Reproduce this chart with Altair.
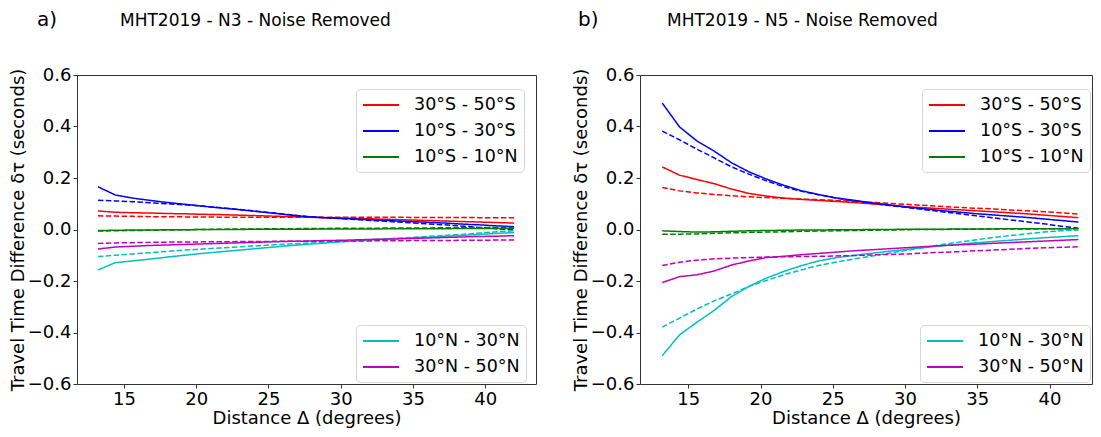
import altair as alt
import pandas as pd

# ---------------- data ----------------
dist = [13.2, 14.4, 15.6, 16.8, 18.0, 19.2, 20.4, 21.6, 22.8, 24.0, 25.2, 26.4, 27.6,
        28.8, 30.0, 31.2, 32.4, 33.6, 34.8, 36.0, 37.2, 38.4, 39.6, 40.8, 42.0]

bands_south = ["30°S - 50°S", "10°S - 30°S", "10°S - 10°N"]
bands_north = ["10°N - 30°N", "30°N - 50°N"]
colors_south = ["#ff0000", "#0000ff", "#008000"]
colors_north = ["#00bfbf", "#bf00bf"]

x_ticks = [15, 20, 25, 30, 35, 40]
y_ticks = [-0.6, -0.4, -0.2, 0.0, 0.2, 0.4, 0.6]

# ---- N3 (panel a): solid = "obs", dashed = "syn"
n3_s3050_obs = [0.072, 0.067, 0.065, 0.064, 0.062, 0.061, 0.059, 0.058, 0.056, 0.054, 0.052, 0.050, 0.048,
                0.046, 0.045, 0.043, 0.041, 0.039, 0.037, 0.035, 0.033, 0.031, 0.029, 0.027, 0.025]
n3_s3050_syn = [0.053, 0.052, 0.051, 0.050, 0.050, 0.049, 0.049, 0.048, 0.048, 0.048, 0.048, 0.048, 0.048,
                0.048, 0.048, 0.048, 0.048, 0.048, 0.047, 0.047, 0.047, 0.047, 0.046, 0.046, 0.046]
n3_s1030_obs = [0.166, 0.134, 0.122, 0.113, 0.105, 0.098, 0.091, 0.084, 0.078, 0.071, 0.064, 0.057, 0.050,
                0.046, 0.043, 0.040, 0.037, 0.034, 0.031, 0.028, 0.025, 0.021, 0.018, 0.014, 0.011]
n3_s1030_syn = [0.114, 0.111, 0.108, 0.104, 0.100, 0.096, 0.091, 0.085, 0.079, 0.072, 0.065, 0.058, 0.051,
                0.046, 0.042, 0.038, 0.034, 0.030, 0.026, 0.022, 0.018, 0.013, 0.008, 0.003, -0.002]
n3_eq_obs = [-0.004, -0.003, -0.002, -0.002, -0.001, -0.001, 0.000, 0.000, 0.000, 0.001, 0.001, 0.001, 0.001,
             0.002, 0.002, 0.002, 0.002, 0.003, 0.003, 0.003, 0.003, 0.004, 0.004, 0.004, 0.004]
n3_eq_syn = [-0.006, -0.005, -0.004, -0.003, -0.002, -0.001, 0.000, 0.001, 0.002, 0.002, 0.003, 0.003, 0.004,
             0.004, 0.005, 0.005, 0.005, 0.006, 0.006, 0.006, 0.007, 0.007, 0.007, 0.008, 0.008]
n3_n1030_obs = [-0.157, -0.129, -0.122, -0.115, -0.107, -0.100, -0.093, -0.087, -0.081, -0.075, -0.069, -0.063, -0.058,
                -0.053, -0.048, -0.044, -0.040, -0.036, -0.033, -0.030, -0.026, -0.023, -0.019, -0.015, -0.012]
n3_n1030_syn = [-0.105, -0.100, -0.095, -0.090, -0.085, -0.080, -0.076, -0.072, -0.068, -0.064, -0.060, -0.056, -0.053,
                -0.050, -0.046, -0.042, -0.039, -0.035, -0.031, -0.027, -0.023, -0.019, -0.014, -0.009, -0.005]
n3_n3050_obs = [-0.076, -0.068, -0.065, -0.062, -0.060, -0.058, -0.056, -0.054, -0.052, -0.050, -0.048, -0.046, -0.045,
                -0.043, -0.042, -0.040, -0.038, -0.037, -0.035, -0.033, -0.031, -0.029, -0.027, -0.026, -0.024]
n3_n3050_syn = [-0.054, -0.052, -0.051, -0.050, -0.049, -0.049, -0.048, -0.048, -0.047, -0.047, -0.046, -0.046, -0.046,
                -0.045, -0.045, -0.045, -0.044, -0.044, -0.043, -0.043, -0.043, -0.042, -0.042, -0.041, -0.041]

# ---- N5 (panel b)
n5_s3050_obs = [0.243, 0.211, 0.194, 0.178, 0.157, 0.140, 0.130, 0.122, 0.117, 0.113, 0.109, 0.105, 0.100,
                0.095, 0.089, 0.085, 0.081, 0.077, 0.073, 0.069, 0.065, 0.061, 0.056, 0.051, 0.046]
n5_s3050_syn = [0.163, 0.150, 0.142, 0.136, 0.131, 0.127, 0.124, 0.121, 0.118, 0.116, 0.113, 0.110, 0.106,
                0.102, 0.098, 0.094, 0.090, 0.086, 0.083, 0.080, 0.076, 0.073, 0.069, 0.065, 0.060]
n5_s1030_obs = [0.491, 0.398, 0.344, 0.304, 0.259, 0.224, 0.196, 0.172, 0.151, 0.136, 0.123, 0.114, 0.104,
                0.096, 0.088, 0.081, 0.074, 0.068, 0.062, 0.057, 0.052, 0.047, 0.041, 0.035, 0.029]
n5_s1030_syn = [0.382, 0.348, 0.312, 0.278, 0.243, 0.215, 0.189, 0.166, 0.149, 0.135, 0.122, 0.112, 0.103,
                0.094, 0.086, 0.078, 0.070, 0.062, 0.054, 0.046, 0.038, 0.030, 0.022, 0.013, 0.005]
n5_eq_obs = [-0.005, -0.008, -0.010, -0.009, -0.007, -0.005, -0.004, -0.003, -0.002, -0.002, -0.001, -0.001, 0.000,
             0.000, 0.001, 0.001, 0.001, 0.002, 0.002, 0.002, 0.003, 0.003, 0.003, 0.003, 0.003]
n5_eq_syn = [-0.018, -0.018, -0.017, -0.015, -0.013, -0.011, -0.010, -0.009, -0.007, -0.006, -0.005, -0.004, -0.003,
             -0.002, -0.001, 0.000, 0.000, 0.001, 0.001, 0.002, 0.002, 0.002, 0.003, 0.003, 0.003]
n5_n1030_obs = [-0.490, -0.409, -0.360, -0.314, -0.260, -0.221, -0.189, -0.163, -0.141, -0.122, -0.110, -0.101, -0.093,
                -0.085, -0.078, -0.071, -0.064, -0.058, -0.052, -0.047, -0.042, -0.037, -0.032, -0.028, -0.024]
n5_n1030_syn = [-0.379, -0.344, -0.309, -0.277, -0.250, -0.221, -0.198, -0.176, -0.157, -0.140, -0.127, -0.115, -0.104,
                -0.093, -0.082, -0.071, -0.060, -0.050, -0.041, -0.032, -0.024, -0.017, -0.010, -0.005, -0.002]
n5_n3050_obs = [-0.206, -0.183, -0.176, -0.161, -0.138, -0.122, -0.109, -0.104, -0.098, -0.093, -0.088, -0.083, -0.079,
                -0.075, -0.071, -0.067, -0.063, -0.060, -0.057, -0.054, -0.051, -0.048, -0.045, -0.042, -0.039]
n5_n3050_syn = [-0.140, -0.127, -0.119, -0.114, -0.111, -0.109, -0.107, -0.106, -0.105, -0.104, -0.103, -0.101, -0.099,
                -0.097, -0.095, -0.092, -0.089, -0.086, -0.083, -0.080, -0.077, -0.074, -0.071, -0.069, -0.067]

FONT = "DejaVu Sans"
PX_PER_DEG = 14.45  # horizontal scale shared by both panels


def build(series):
    rows = []
    for band, obs, syn in series:
        for d, a, b in zip(dist, obs, syn):
            rows.append({"dist": d, "val": a, "band": band, "kind": "obs"})
            rows.append({"dist": d, "val": b, "band": band, "kind": "syn"})
    return pd.DataFrame(rows)


df_n3 = build([
    (bands_south[0], n3_s3050_obs, n3_s3050_syn),
    (bands_south[1], n3_s1030_obs, n3_s1030_syn),
    (bands_south[2], n3_eq_obs, n3_eq_syn),
    (bands_north[0], n3_n1030_obs, n3_n1030_syn),
    (bands_north[1], n3_n3050_obs, n3_n3050_syn),
])
df_n5 = build([
    (bands_south[0], n5_s3050_obs, n5_s3050_syn),
    (bands_south[1], n5_s1030_obs, n5_s1030_syn),
    (bands_south[2], n5_eq_obs, n5_eq_syn),
    (bands_north[0], n5_n1030_obs, n5_n1030_syn),
    (bands_north[1], n5_n3050_obs, n5_n3050_syn),
])


def legend(lx, ly):
    return alt.Legend(
        title=None, orient="none", legendX=lx, legendY=ly, symbolType="M-2,0H2", symbolSize=324,
        symbolStrokeWidth=2, symbolOffset=9, labelFont=FONT, labelFontSize=17.5, labelColor="black",
        padding=6, rowPadding=7, labelOffset=23, labelLimit=400,
        strokeColor="#d5d5d5", fillColor="white", cornerRadius=4,
    )


def panel(df, letter, title, letter_dx, title_dx, width, height, x0, leg_s, leg_n):
    x = alt.X("dist:Q",
              scale=alt.Scale(domain=[x0, x0 + width / PX_PER_DEG], nice=False, zero=False),
              axis=alt.Axis(values=x_ticks, title="Distance Δ (degrees)", format="d"))
    y = alt.Y("val:Q", scale=alt.Scale(domain=[-0.6, 0.6], nice=False, zero=False),
              axis=alt.Axis(values=y_ticks, format=".1f",
                            title="Travel Time Difference  δτ (seconds)"))
    dash = alt.StrokeDash("kind:N", scale=alt.Scale(domain=["obs", "syn"], range=[[1, 0], [5.5, 2.4]]),
                          legend=None)
    base = alt.Chart(df)
    south = base.transform_filter(
        alt.FieldOneOfPredicate(field="band", oneOf=bands_south)
    ).mark_line(strokeWidth=1.5, clip=True).encode(
        x=x, y=y, strokeDash=dash,
        color=alt.Color("band:N", scale=alt.Scale(domain=bands_south, range=colors_south),
                        legend=legend(*leg_s)),
    )
    north = base.transform_filter(
        alt.FieldOneOfPredicate(field="band", oneOf=bands_north)
    ).mark_line(strokeWidth=1.5, clip=True).encode(
        x=x, y=y, strokeDash=dash,
        color=alt.Color("band:N", scale=alt.Scale(domain=bands_north, range=colors_north),
                        legend=legend(*leg_n)),
    )
    letter_t = alt.Chart(pd.DataFrame({"t": [letter]})).mark_text(
        font=FONT, fontSize=20, align="left", baseline="alphabetic", color="black"
    ).encode(text="t:N", x=alt.value(letter_dx), y=alt.value(-49))
    title_t = alt.Chart(pd.DataFrame({"t": [title]})).mark_text(
        font=FONT, fontSize=17, align="left", baseline="alphabetic", color="black"
    ).encode(text="t:N", x=alt.value(title_dx), y=alt.value(-49))
    return alt.layer(south, north, letter_t, title_t).resolve_scale(
        color="independent"
    ).properties(width=width, height=height)


p1 = panel(df_n3, "a)", "MHT2019 - N3 - Noise Removed", -40, 43, 459, 309, 11.75,
           (279, 14), (279, 250))
p2 = panel(df_n5, "b)", "MHT2019 - N5 - Noise Removed", -62, 27, 452, 309, 11.66,
           (282, 14), (280, 250))

chart = alt.hconcat(p1, p2, spacing=34).properties(
    padding={"left": 0, "top": 1, "right": 0, "bottom": 0}
).configure_view(stroke="#333333", strokeWidth=1).configure_axis(
    domain=False, grid=False, labelFont=FONT, titleFont=FONT, labelFontSize=18,
    titleFontSize=18, titleFontWeight="normal", labelColor="black", titleColor="black",
    tickColor="#333333", tickSize=4, labelPadding=2,
).configure_axisX(titlePadding=1).configure_axisY(titlePadding=0).configure_concat(spacing=34)

chart.save("out.html", embed_options={"renderer": "svg", "actions": False})
